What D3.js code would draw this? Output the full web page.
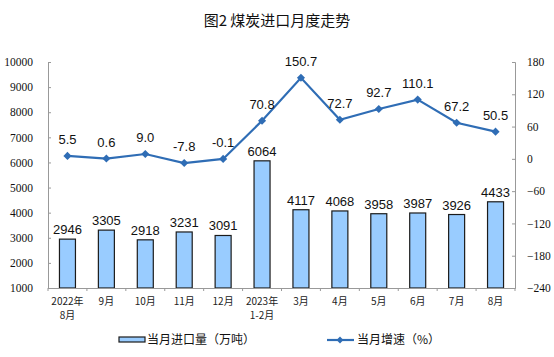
<!DOCTYPE html>
<html><head><meta charset="utf-8">
<script src="https://cdn.jsdelivr.net/npm/d3@7"></script>
<style>body{margin:0;background:#fff}svg{display:block}</style>
</head><body>
<svg id="c" width="554" height="357"></svg>
<script>
const categories = [["2022年","8月"],["9月"],["10月"],["11月"],["12月"],["2023年","1-2月"],["3月"],["4月"],["5月"],["6月"],["7月"],["8月"]];
const importVolume = [2946,3305,2918,3231,3091,6064,4117,4068,3958,3987,3926,4433];
const growthRate = [5.5,0.6,9.0,-7.8,-0.1,70.8,150.7,72.7,92.7,110.1,67.2,50.5];
const leftTicks = [1000,2000,3000,4000,5000,6000,7000,8000,9000,10000];
const rightTicks = [-240,-180,-120,-60,0,60,120,180];

const svg = d3.select("#c");
const L = 48, R = 515, T = 62, B = 288;
const x = d3.scaleBand().domain(d3.range(12)).range([L, R]);
const yL = d3.scaleLinear().domain([1000,10000]).range([B, T]);
const yR = d3.scaleLinear().domain([-240,180]).range([B, T]);
const cjk = "'Noto Sans CJK SC', sans-serif";
const serif = "'Liberation Serif', 'DejaVu Serif', serif";
const sans = "'Liberation Sans', Arial, sans-serif";

svg.append("text").attr("x",277).attr("y",26).attr("text-anchor","middle")
  .style("font-family",cjk).style("font-size","15px").attr("fill","#111").text("图2 煤炭进口月度走势");

// left axis
const gl = svg.append("g").attr("transform",`translate(${L},0)`)
  .call(d3.axisLeft(yL).tickValues(leftTicks).tickSize(-3).tickPadding(14).tickFormat(d3.format("d")));
// right axis
const gr = svg.append("g").attr("transform",`translate(${R},0)`)
  .call(d3.axisRight(yR).tickValues(rightTicks).tickSize(-3).tickPadding(12).tickFormat(d3.format("d")));
[gl,gr].forEach(g=>{
  g.select(".domain").attr("stroke","#999");
  g.selectAll(".tick line").attr("stroke","#999");
  g.selectAll("text").style("font-family",serif).style("font-size","11.5px").attr("fill","#111");
});
gl.selectAll("text").attr("dx",-1);

// bars
svg.append("g").selectAll("rect").data(importVolume).join("rect")
  .attr("x",(d,i)=>x(i)+x.bandwidth()/2-8).attr("width",16)
  .attr("y",d=>yL(d)).attr("height",d=>B-yL(d))
  .attr("fill","#99ccff").attr("stroke","#1b1b1b").attr("stroke-width",1.2);
svg.append("g").selectAll("text").data(importVolume).join("text")
  .attr("x",(d,i)=>x(i)+x.bandwidth()/2).attr("y",d=>yL(d)-5)
  .attr("text-anchor","middle").style("font-family",sans).style("font-size","13px").attr("fill","#111")
  .text(d=>d);

// bottom axis
const gb = svg.append("g").attr("transform",`translate(0,${B})`)
  .call(d3.axisBottom(x).tickSize(0).tickFormat(""));
gb.select(".domain").attr("stroke","#999");
svg.append("g").selectAll("line").data(d3.range(13)).join("line")
  .attr("x1",i=>L+i*x.step()).attr("x2",i=>L+i*x.step()).attr("y1",B).attr("y2",B+3).attr("stroke","#999");
// two-line labels drawn as separate text elements
const xlg = svg.append("g").style("font-family",cjk).style("font-size","10px").attr("fill","#222").attr("text-anchor","middle");
categories.forEach((lines,i)=>{
  lines.forEach((t,j)=>{
    xlg.append("text").attr("x",x(i)+x.bandwidth()/2).attr("y",305+j*13.5).text(t);
  });
});

// line
const line = d3.line().x((d,i)=>x(i)+x.bandwidth()/2).y(d=>yR(d));
svg.append("path").datum(growthRate).attr("d",line).attr("fill","none")
  .attr("stroke","#2f6db5").attr("stroke-width",2.2);
svg.append("g").selectAll("path").data(growthRate).join("path")
  .attr("d",d3.symbol(d3.symbolDiamond2,42)())
  .attr("transform",(d,i)=>`translate(${x(i)+x.bandwidth()/2},${yR(d)})`)
  .attr("fill","#2f6db5");
svg.append("g").selectAll("text").data(growthRate).join("text")
  .attr("x",(d,i)=>x(i)+x.bandwidth()/2).attr("y",d=>yR(d)-12)
  .attr("text-anchor","middle").style("font-family",sans).style("font-size","13px").attr("fill","#111")
  .text(d=>d.toFixed(1));

// legend
svg.append("rect").attr("x",119).attr("y",337).attr("width",26).attr("height",5)
  .attr("fill","#99ccff").attr("stroke","#1b1b1b").attr("stroke-width",1.2);
svg.append("text").attr("x",147).attr("y",344).style("font-family",cjk).style("font-size","12px").attr("fill","#111")
  .text("当月进口量（万吨）");
svg.append("line").attr("x1",327).attr("x2",354).attr("y1",340).attr("y2",340).attr("stroke","#2f6db5").attr("stroke-width",2.2);
svg.append("path").attr("d",d3.symbol(d3.symbolDiamond2,30)()).attr("transform","translate(340,340)").attr("fill","#2f6db5");
svg.append("text").attr("x",357).attr("y",344).style("font-family",cjk).style("font-size","12px").attr("fill","#111")
  .text("当月增速（%）");
</script>
</body></html>
